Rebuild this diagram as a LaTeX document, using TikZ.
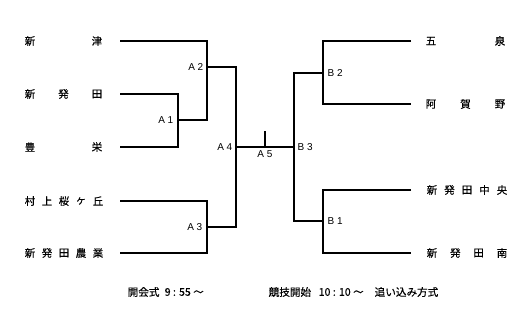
\documentclass[tikz,border=0pt]{standalone}
\usepackage{fontspec}
\newfontfamily\jp[FakeBold=0.4]{Noto Sans CJK JP}
\newfontfamily\lat{Liberation Sans}
\begin{document}
\begin{tikzpicture}[x=1pt,y=-1pt,line width=1.4pt,
  jpc/.style={font=\jp\fontsize{10.5}{11}\selectfont,inner sep=0pt},
  lbl/.style={font=\lat\fontsize{10}{11}\selectfont,inner sep=0pt},
  foot/.style={font=\jp\fontsize{10.6}{11}\selectfont,inner sep=0pt,anchor=west}]
\useasboundingbox (0,0) rectangle (531,310);
% left team names
\node[jpc] (t1a) at (30,41) {新};
\node[jpc] (t1b) at (97,41) {津};
\node[jpc] (t2a) at (30,94) {新};
\node[jpc] (t2b) at (63.5,94) {発};
\node[jpc] (t2c) at (97,94) {田};
\node[jpc] (t3a) at (30,147) {豊};
\node[jpc] (t3b) at (97,147) {栄};
\node[jpc] (t4a) at (30,201) {村};
\node[jpc] (t4b) at (47,201) {上};
\node[jpc] (t4c) at (64,201) {桜};
\node[jpc] (t4d) at (81,201) {ヶ};
\node[jpc] (t4e) at (98,201) {丘};
\node[jpc] (t5a) at (30,253) {新};
\node[jpc] (t5b) at (47,253) {発};
\node[jpc] (t5c) at (64,253) {田};
\node[jpc] (t5d) at (81,253) {農};
\node[jpc] (t5e) at (98,253) {業};
% right team names
\node[jpc] (r1a) at (431,41) {五};
\node[jpc] (r1b) at (500,41) {泉};
\node[jpc] (r2a) at (431,104) {阿};
\node[jpc] (r2b) at (465.5,104) {賀};
\node[jpc] (r2c) at (500,104) {野};
\node[jpc] (r3a) at (432,190) {新};
\node[jpc] (r3b) at (449.5,190) {発};
\node[jpc] (r3c) at (467,190) {田};
\node[jpc] (r3d) at (484.5,190) {中};
\node[jpc] (r3e) at (502,190) {央};
\node[jpc] (r4a) at (432,253) {新};
\node[jpc] (r4b) at (455.3,253) {発};
\node[jpc] (r4c) at (478.6,253) {田};
\node[jpc] (r4d) at (502,253) {南};
% coordinates
\coordinate (l1) at (120,41);
\coordinate (l2) at (120,94);
\coordinate (l3) at (120,147);
\coordinate (l4) at (120,201);
\coordinate (l5) at (120,253);
\coordinate (a1t) at (178,94);
\coordinate (a1b) at (178,147);
\coordinate (a1m) at (178,120);
\coordinate (a2t) at (207,41);
\coordinate (a2b) at (207,120);
\coordinate (a2m) at (207,67);
\coordinate (a3t) at (207,201);
\coordinate (a3b) at (207,253);
\coordinate (a3m) at (207,227);
\coordinate (a4t) at (236,67);
\coordinate (a4b) at (236,227);
\coordinate (a4m) at (236,147);
\coordinate (b3m) at (294,147);
\coordinate (b3t) at (294,73);
\coordinate (b3b) at (294,221);
\coordinate (a5b) at (265,147);
\coordinate (a5t) at (265,131);
\coordinate (b2m) at (323,73);
\coordinate (b2t) at (323,41);
\coordinate (b2b) at (323,104);
\coordinate (b1m) at (323,221);
\coordinate (b1t) at (323,190);
\coordinate (b1b) at (323,253);
\coordinate (e1) at (411,41);
\coordinate (e2) at (411,104);
\coordinate (e3) at (411,190);
\coordinate (e4) at (411,253);
% bracket lines
\draw (l2) -- (a1t) -- (a1b) -- (l3);
\draw (l1) -- (a2t) -- (a2b) -- (a1m);
\draw (l4) -- (a3t) -- (a3b) -- (l5);
\draw (a2m) -- (a4t) -- (a4b) -- (a3m);
\draw (a4m) -- (b3m);
\draw (a5b) -- (a5t);
\draw (b2m) -- (b3t) -- (b3b) -- (b1m);
\draw (e1) -- (b2t) -- (b2b) -- (e2);
\draw (e3) -- (b1t) -- (b1b) -- (e4);
% labels
\node[lbl,anchor=east] (A1) at (174,120) {A 1};
\node[lbl,anchor=east] (A2) at (204,67) {A 2};
\node[lbl,anchor=east] (A3) at (203,227) {A 3};
\node[lbl,anchor=east] (A4) at (233,147) {A 4};
\node[lbl] (A5) at (265,154) {A 5};
\node[lbl,anchor=west] (B3) at (297,147) {B 3};
\node[lbl,anchor=west] (B2) at (327,73) {B 2};
\node[lbl,anchor=west] (B1) at (327,221) {B 1};
% footer
\node[foot] (f1) at (127,292) {開会式};
\node[foot] (f1t) at (164,292) {9 : 55 ～};
\node[foot] (f2) at (268,292) {競技開始};
\node[foot] (f2t) at (318,292) {10 : 10 ～};
\node[foot] (f3) at (374,292) {追い込み方式};
\end{tikzpicture}
\end{document}
